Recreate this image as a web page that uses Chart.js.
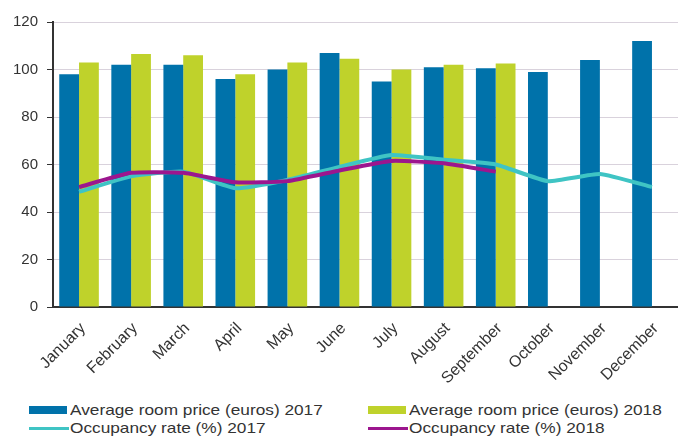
<!DOCTYPE html>
<html>
<head>
<meta charset="utf-8">
<script src="https://cdn.jsdelivr.net/npm/chart.js@4.4.0/dist/chart.umd.min.js"></script>
<style>
    body { margin: 0; background: #fff; font-family: "Liberation Sans", Arial, sans-serif; }
    #wrap { position: relative; width: 678px; height: 437px; }
    #chart { position: absolute; left: 0; top: 0; }
    .leg { position: absolute; height: 18px; line-height: 18px; font-size: 15px; color: #333; white-space: nowrap; }
    .leg span.sym { position: absolute; left: 0; }
    .leg span.txt { position: absolute; left: 41px; top: 0; transform: scaleX(1.15); transform-origin: left center; }
</style>
</head>
<body>
<div id="wrap">
    <canvas id="chart" width="678" height="387"></canvas>
    <div class="leg" style="left:29px; top:401px;"><span class="sym" style="top:5px; width:38px; height:8px; background:#0072AA;"></span><span class="txt">Average room price (euros) 2017</span></div>
    <div class="leg" style="left:368px; top:401px;"><span class="sym" style="top:5px; width:38px; height:8px; background:#BFD22B;"></span><span class="txt">Average room price (euros) 2018</span></div>
    <div class="leg" style="left:29px; top:419px;"><span class="sym" style="top:8px; width:40px; height:3px; background:#3FC4C4;"></span><span class="txt">Occupancy rate (%) 2017</span></div>
    <div class="leg" style="left:368px; top:419px;"><span class="sym" style="top:8px; width:40px; height:3px; background:#9C168E;"></span><span class="txt">Occupancy rate (%) 2018</span></div>
</div>
<script>
"use strict";

// months
var months = ['January', 'February', 'March', 'April', 'May', 'June', 'July', 'August', 'September', 'October', 'November', 'December'];

// average room price (euros)
var price2017 = [98, 102, 102, 96, 100, 107, 95, 101, 100.5, 99, 104, 112];
var price2018 = [103, 106.5, 106, 98, 103, 104.5, 100, 102, 102.5, null, null, null];

// occupancy rate (%)
var occ2017 = [48.5, 55, 57, 50, 53.5, 59, 64, 62, 60, 53, 56, 50.5];
var occ2018 = [50.5, 56.5, 56.5, 52.5, 53, 57.5, 61.5, 60.5, 57, null, null, null];

var yTicks = [0, 20, 40, 60, 80, 100, 120];

var chartData = {
    labels: months,
    datasets: [{
        type: 'line',
        label: 'Occupancy rate (%) 2018',
        data: occ2018,
        borderColor: '#9C168E',
        borderWidth: 4,
        pointRadius: 0,
        tension: 0.15,
        order: 0
    }, {
        type: 'line',
        label: 'Occupancy rate (%) 2017',
        data: occ2017,
        borderColor: '#3FC4C4',
        borderWidth: 4,
        pointRadius: 0,
        tension: 0.15,
        order: 1
    }, {
        type: 'bar',
        label: 'Average room price (euros) 2017',
        data: price2017,
        backgroundColor: '#0072AA',
        order: 2
    }, {
        type: 'bar',
        label: 'Average room price (euros) 2018',
        data: price2018,
        backgroundColor: '#BFD22B',
        order: 3
    }]
};

new Chart(document.getElementById('chart'), {
    data: chartData,
    options: {
        responsive: false,
        animation: false,
        layout: { padding: { top: 22, right: 0, left: 0, bottom: 0 } },
        datasets: {
            bar: { categoryPercentage: 0.76, barPercentage: 1.0 }
        },
        plugins: {
            legend: { display: false },
            tooltip: { enabled: false }
        },
        scales: {
            x: {
                grid: { display: false },
                border: { color: '#333', width: 2 },
                ticks: {
                    color: '#333',
                    font: { family: 'Liberation Sans', size: 16 },
                    minRotation: 45,
                    maxRotation: 45,
                    labelOffset: 4,
                    padding: 4
                },
                afterFit: function(scale) { scale.height = 80; }
            },
            y: {
                min: 0,
                max: 120,
                afterBuildTicks: function(scale) {
                    scale.ticks = yTicks.map(function(v) { return { value: v }; });
                },
                grid: {
                    color: '#d9d2dc',
                    tickColor: '#333',
                    tickLength: 6
                },
                border: { color: '#333', width: 2 },
                ticks: {
                    color: '#333',
                    font: { family: 'Liberation Sans', size: 15 },
                    padding: 9
                },
                afterFit: function(scale) { scale.width = 53; }
            }
        }
    }
});
</script>
</body>
</html>
